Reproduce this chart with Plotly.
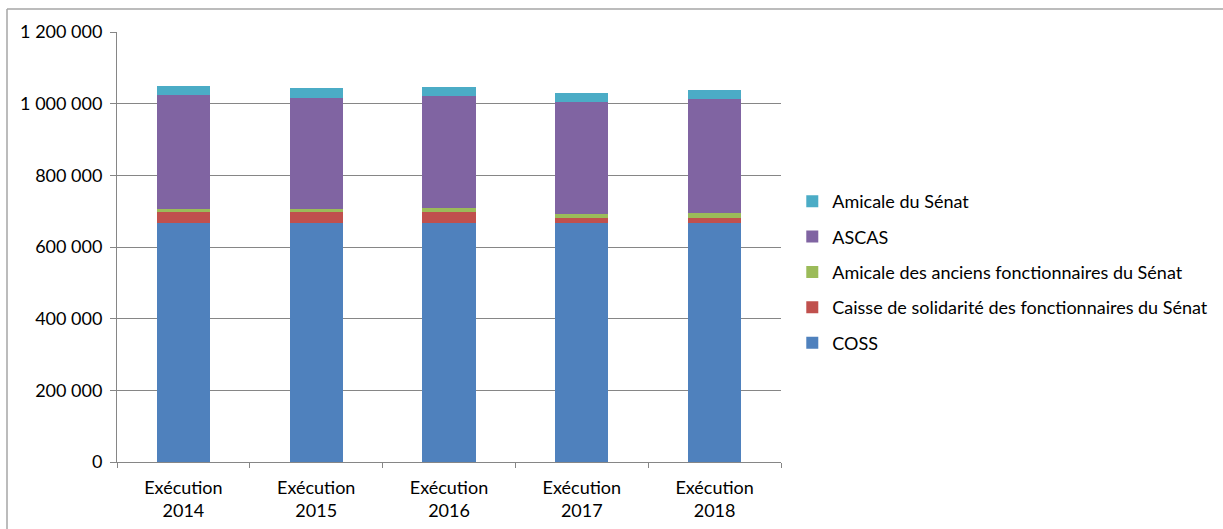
import plotly.graph_objects as go

# Categories (years of execution)
categories = ["Exécution<br>2014", "Exécution<br>2015", "Exécution<br>2016",
              "Exécution<br>2017", "Exécution<br>2018"]

# Subsidies per organisation (euros), stacked bottom to top
coss = [667000, 667000, 667000, 667000, 667000]
caisse = [31000, 31000, 32000, 15000, 15000]
amicale_anciens = [8000, 9000, 10000, 10000, 14000]
ascas = [318000, 310000, 312000, 312000, 316000]
amicale_senat = [25000, 26000, 26000, 26000, 26000]

series = [
    ("COSS", coss, "#4F81BD"),
    ("Caisse de solidarité des fonctionnaires du Sénat", caisse, "#C0504D"),
    ("Amicale des anciens fonctionnaires du Sénat", amicale_anciens, "#9BBB59"),
    ("ASCAS", ascas, "#8064A2"),
    ("Amicale du Sénat", amicale_senat, "#4BACC6"),
]

y_ticks = [0, 200000, 400000, 600000, 800000, 1000000, 1200000]
y_tick_labels = ["0", "200 000", "400 000", "600 000", "800 000", "1 000 000", "1 200 000"]

FONT = "Lato, 'Open Sans', sans-serif"
FS = 18

fig = go.Figure()
n = len(series)
for i, (name, vals, color) in enumerate(series):
    fig.add_trace(go.Bar(
        x=categories, y=vals, name=name,
        marker=dict(color=color, line=dict(width=0)),
        legendgroup=f"g{i}",
        legendrank=n - i,  # top of the stack listed first
    ))

fig.update_layout(
    barmode="stack",
    bargap=0.6,
    width=1223, height=529,
    margin=dict(l=117, r=442, t=32, b=67, autoexpand=False),
    paper_bgcolor="white",
    plot_bgcolor="white",
    font=dict(family=FONT, size=FS, color="#000000"),
    showlegend=True,
    legend=dict(
        traceorder="grouped",
        tracegroupgap=9,
        x=1.017, xanchor="left",
        y=0.442, yanchor="middle",
        font=dict(family=FONT, size=FS, color="#000000"),
        itemwidth=30,
        bgcolor="rgba(0,0,0,0)",
    ),
    xaxis=dict(
        type="category",
        showline=True, linecolor="#868686", linewidth=1,
        ticks="outside", tickson="boundaries", ticklen=5,
        tickcolor="#868686",
        ticklabelstandoff=9,
        showgrid=False,
        tickfont=dict(family=FONT, size=FS, color="#000000"),
    ),
    yaxis=dict(
        range=[0, 1200000],
        tickvals=y_ticks, ticktext=y_tick_labels,
        showline=True, linecolor="#868686", linewidth=1,
        ticks="outside", ticklen=6, tickcolor="#868686",
        ticklabelstandoff=4,
        showgrid=True, gridcolor="#868686", gridwidth=1,
        zeroline=False,
        tickfont=dict(family=FONT, size=FS, color="#000000"),
    ),
    shapes=[
        # outer chart frame
        dict(type="line", xref="paper", yref="paper",
             x0=(7 - 117) / 664, x1=(1230 - 117) / 664,
             y0=(462 - 9) / 430, y1=(462 - 9) / 430,
             line=dict(color="#A6A6A6", width=1.5)),
        dict(type="line", xref="paper", yref="paper",
             x0=(7 - 117) / 664, x1=(7 - 117) / 664,
             y0=(462 - 540) / 430, y1=(462 - 9) / 430,
             line=dict(color="#A6A6A6", width=1.5)),
    ],
)

fig.write_html("out.html")
